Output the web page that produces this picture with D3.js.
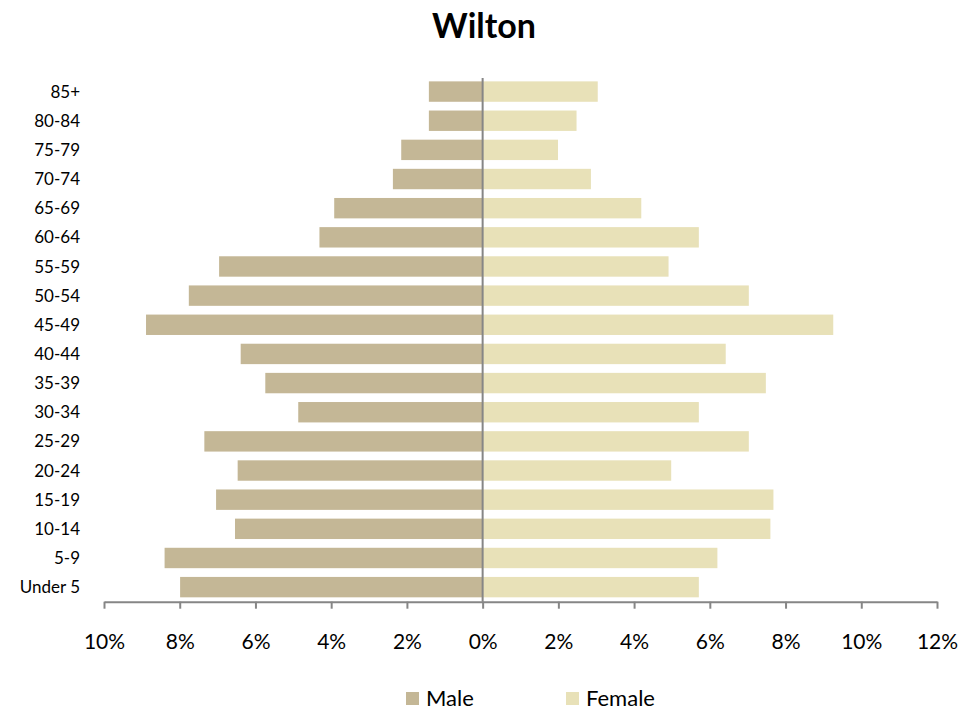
<!DOCTYPE html>
<html><head><meta charset="utf-8">
<script src="https://cdn.jsdelivr.net/npm/d3@7/dist/d3.min.js"></script>
<style>body{margin:0;background:#fff;} text{font-family:Lato,"Open Sans",sans-serif;fill:#000;}</style>
</head><body><svg id="c" width="979" height="713"></svg>
<script>
const categories = ["85+","80-84","75-79","70-74","65-69","60-64","55-59","50-54","45-49","40-44","35-39","30-34","25-29","20-24","15-19","10-14","5-9","Under 5"];
const male   = [1.42,1.42,2.15,2.37,3.92,4.31,6.96,7.76,8.89,6.39,5.74,4.87,7.35,6.47,7.04,6.54,8.40,7.99];
const female = [3.04,2.48,1.99,2.86,4.19,5.71,4.91,7.03,9.26,6.42,7.48,5.71,7.03,4.98,7.68,7.60,6.20,5.71];
const tickValues = [-10,-8,-6,-4,-2,0,2,4,6,8,10,12];
const seriesNames = ["Male","Female"];
const colors = {Male:"#C4B796", Female:"#E8E1B8"};

const svg = d3.select("#c");
const x = d3.scaleLinear().domain([-10,12]).range([104,937]);
const y = d3.scaleBand().domain(categories).range([77,601.7]).paddingInner(0.3).paddingOuter(0.15);

svg.append("text").attr("x",484).attr("y",38).attr("text-anchor","middle")
  .style("font-size","34px").style("font-weight","bold").text("Wilton");

svg.selectAll("rect.m").data(categories).join("rect").attr("class","m")
  .attr("x",(d,i)=>x(-male[i])).attr("width",(d,i)=>x(0)-x(-male[i]))
  .attr("y",d=>y(d)).attr("height",y.bandwidth()).attr("fill",colors.Male);
svg.selectAll("rect.f").data(categories).join("rect").attr("class","f")
  .attr("x",x(0)).attr("width",(d,i)=>x(female[i])-x(0))
  .attr("y",d=>y(d)).attr("height",y.bandwidth()).attr("fill",colors.Female);

// x axis
const xa = svg.append("g").attr("transform","translate(0,601.7)")
  .call(d3.axisBottom(x).tickValues(tickValues).tickSize(7).tickSizeOuter(0).tickPadding(25)
  .tickFormat(d=>Math.abs(d)+"%"));
xa.select(".domain").attr("stroke","#868686").attr("stroke-width",2);
xa.selectAll(".tick line").attr("stroke","#868686").attr("stroke-width",2);
xa.selectAll(".tick text").style("font-size","21px").attr("fill","#000");

// vertical axis at 0
svg.append("line").attr("x1",x(0)).attr("x2",x(0)).attr("y1",78).attr("y2",601.7)
  .attr("stroke","#868686").attr("stroke-width",2);
svg.selectAll("text.cat").data(categories).join("text").attr("class","cat")
  .attr("x",80).attr("y",d=>y(d)+y.bandwidth()/2).attr("dy","0.36em")
  .attr("text-anchor","end").style("font-size","17px").text(d=>d);

// legend
const leg = svg.append("g");
const lx = [406,566];
seriesNames.forEach((s,i)=>{
  leg.append("rect").attr("x",lx[i]).attr("y",692).attr("width",13).attr("height",13).attr("fill",colors[s]);
  leg.append("text").attr("x",lx[i]+20).attr("y",706).style("font-size","22px").text(s);
});
</script></body></html>
